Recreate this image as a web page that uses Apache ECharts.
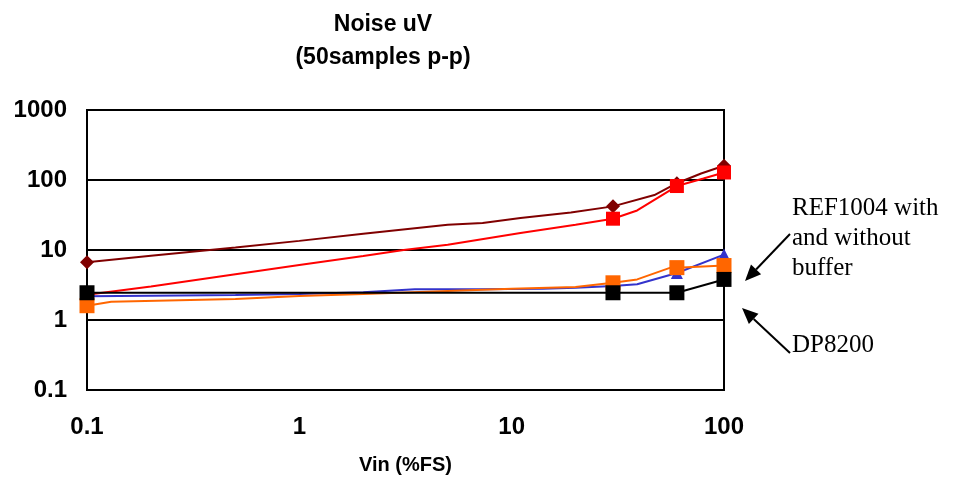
<!DOCTYPE html>
<html>
<head>
    <meta charset="UTF-8">
    <title>Noise uV</title>
    <script type="text/javascript" src="https://cdn.jsdelivr.net/npm/echarts@6/dist/echarts.min.js"></script>
    <style>
        html, body { margin: 0; padding: 0; background: #fff; }
        #main { width: 955px; height: 490px; }
    </style>
</head>
<body>
<div id="main"></div>
<script type="text/javascript">
    // tick labels
    var xTicks = [0.1, 1, 10, 100];
    var yTicks = [0.1, 1, 10, 100, 1000];
    // x values where markers are drawn
    var markerX = [0.1, 30, 60, 100];

    // line vertices
    var darkRedX = [0.1, 0.2, 0.5, 1, 2, 5, 7.3, 11, 19, 30, 47, 60, 78, 100];
    var darkRedY = [6.7, 8.3, 10.9, 13.5, 17, 23, 24.3, 28.6, 34.4, 42, 61, 90, 124, 160];

    var redX = [0.1, 0.2, 0.5, 1, 2, 3.1, 5, 11, 20, 30, 39, 60, 80, 100];
    var redY = [2.3, 3.0, 4.5, 6.1, 8.2, 10, 11.9, 17.5, 23, 28, 36.7, 82, 105, 128];

    var blueX = [0.1, 0.2, 0.5, 1, 2, 3.5, 7, 14, 20, 30, 39, 60, 100];
    var blueY = [2.18, 2.22, 2.28, 2.35, 2.5, 2.75, 2.75, 2.8, 2.9, 3.07, 3.24, 4.7, 8.6];

    var orangeX = [0.1, 0.13, 0.5, 1, 2, 5, 10, 20, 30, 39, 56, 60, 100];
    var orangeY = [1.6, 1.82, 2.0, 2.2, 2.35, 2.6, 2.8, 2.95, 3.4, 3.8, 5.6, 5.6, 6.0];

    var blackX = [0.1, 30, 60, 100];
    var blackY = [2.45, 2.45, 2.45, 3.8];

    function buildData(xs, ys, sym) {
        var out = [];
        for (var i = 0; i < xs.length; i++) {
            out.push({
                value: [xs[i], ys[i]],
                symbol: markerX.indexOf(xs[i]) >= 0 ? sym : 'none'
            });
        }
        return out;
    }

    function makeSeries(name, xs, ys, color, sym, size, z) {
        return {
            name: name,
            type: 'line',
            data: buildData(xs, ys, sym),
            showSymbol: true,
            showAllSymbol: true,
            symbolSize: size,
            z: z,
            animation: false,
            lineStyle: { color: color, width: 2 },
            itemStyle: { color: color }
        };
    }

    // arrow from (x1,y1) to tip (x2,y2)
    function arrow(x1, y1, x2, y2) {
        var ang = Math.atan2(y2 - y1, x2 - x1);
        var len = 16, half = 7;
        var bx = x2 - len * Math.cos(ang), by = y2 - len * Math.sin(ang);
        var px = -Math.sin(ang), py = Math.cos(ang);
        return [{
            type: 'line',
            shape: { x1: x1, y1: y1, x2: bx, y2: by },
            style: { stroke: '#000', lineWidth: 2 }
        }, {
            type: 'polygon',
            shape: { points: [[x2, y2], [bx + px * half, by + py * half], [bx - px * half, by - py * half]] },
            style: { fill: '#000' }
        }];
    }

    var myChart = echarts.init(document.getElementById('main'));
    var sans = "'Liberation Sans', Arial, sans-serif";
    var serif = "'Liberation Serif', 'Times New Roman', serif";

    var option = {
        backgroundColor: '#fff',
        animation: false,
        title: {
            text: 'Noise uV\n(50samples p-p)',
            left: 378,
            top: 3,
            textAlign: 'center',
            textStyle: { fontFamily: sans, fontSize: 23, fontWeight: 'bold', color: '#000', lineHeight: 33 }
        },
        grid: {
            left: 87, right: 231, top: 110, bottom: 100,
            show: true, borderColor: '#000', borderWidth: 2
        },
        xAxis: {
            type: 'log',
            logBase: 10,
            min: 0.1,
            max: 100,
            name: 'Vin (%FS)',
            nameLocation: 'middle',
            nameGap: 65,
            nameTextStyle: { fontFamily: sans, fontSize: 20, fontWeight: 'bold', color: '#000' },
            axisLine: { lineStyle: { color: '#000', width: 2 } },
            axisTick: { show: false },
            splitLine: { show: false },
            axisLabel: {
                margin: 25,
                fontFamily: sans, fontSize: 24, fontWeight: 'bold', color: '#000',
                formatter: function (v) { return xTicks.indexOf(+v) >= 0 ? String(+v) : ''; }
            }
        },
        yAxis: {
            type: 'log',
            logBase: 10,
            min: 0.1,
            max: 1000,
            axisLine: { show: true, lineStyle: { color: '#000', width: 2 } },
            axisTick: { show: false },
            splitLine: { show: true, lineStyle: { color: '#000', width: 2 } },
            axisLabel: {
                margin: 20,
                fontFamily: sans, fontSize: 24, fontWeight: 'bold', color: '#000',
                formatter: function (v) { return yTicks.indexOf(+v) >= 0 ? String(+v) : ''; }
            }
        },
        series: [
            makeSeries('A', darkRedX, darkRedY, '#800000', 'diamond', 14, 2),
            makeSeries('B', redX, redY, '#ff0000', 'rect', 14, 3),
            makeSeries('C', blueX, blueY, '#3333cc', 'triangle', 12, 4),
            makeSeries('D', orangeX, orangeY, '#ff6600', 'rect', 15, 5),
            makeSeries('DP8200', blackX, blackY, '#000000', 'rect', 15, 6)
        ],
        graphic: [].concat(
            arrow(790, 234, 745, 281),
            arrow(790, 353, 742, 308),
            [{
                type: 'text',
                left: 792,
                top: 193,
                style: {
                    text: 'REF1004 with\nand without\nbuffer',
                    font: '25px ' + serif,
                    fill: '#000',
                    lineHeight: 30
                }
            }, {
                type: 'text',
                left: 792,
                top: 333,
                style: { text: 'DP8200', font: '25px ' + serif, fill: '#000' }
            }]
        )
    };

    myChart.setOption(option);
</script>
</body>
</html>
